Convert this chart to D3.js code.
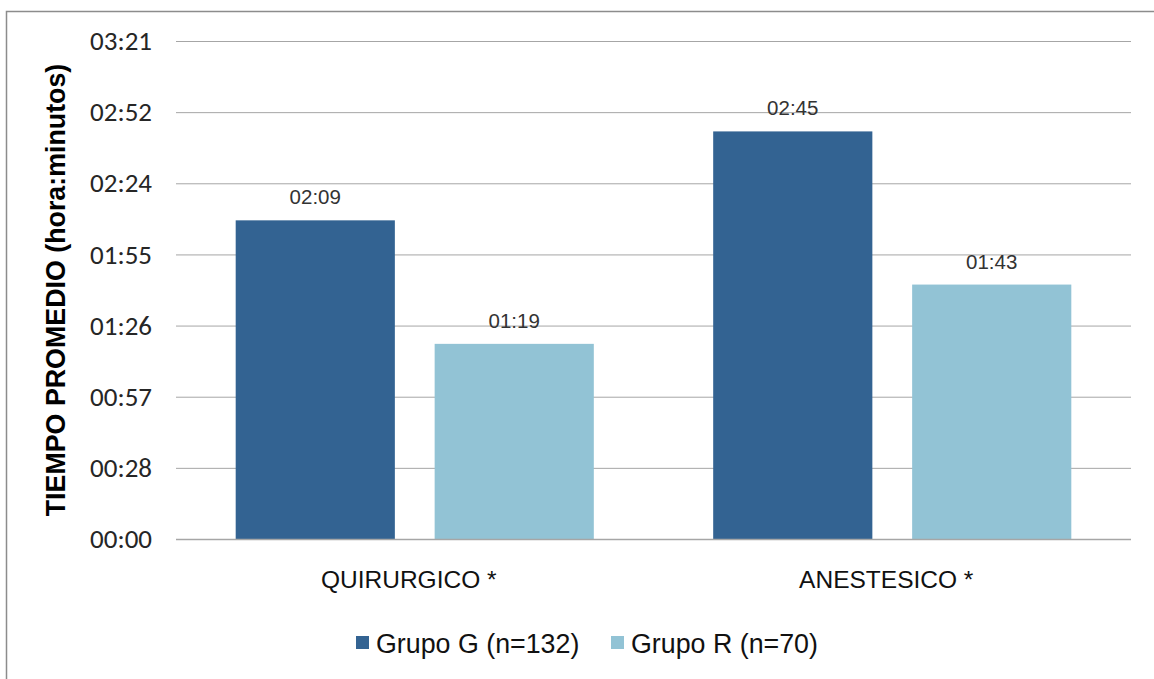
<!DOCTYPE html>
<html>
<head>
<meta charset="utf-8">
<script src="https://cdn.jsdelivr.net/npm/d3@7"></script>
<style>
  html, body { margin: 0; padding: 0; background: #fff; }
  svg { display: block; }
</style>
</head>
<body>
<svg id="chart" width="1154" height="679"></svg>
<script>
// Mean durations in minutes, per procedure category
const categories = ["QUIRURGICO *", "ANESTESICO *"];
const seriesNames = ["Grupo G (n=132)", "Grupo R (n=70)"];
const grupoG = [129, 165];
const grupoR = [79, 103];
const seriesColors = ["#336392", "#92c3d5"];
// Axis ticks every 0.02 day (28.8 min), as on a spreadsheet time axis
const tickMinutes = [0, 28.8, 57.6, 86.4, 115.2, 144, 172.8, 201.6];

const fmt = m => {
  const t = Math.floor(m + 1e-9);
  const h = Math.floor(t / 60), mm = t % 60;
  return String(h).padStart(2, "0") + ":" + String(mm).padStart(2, "0");
};

const svg = d3.select("#chart");
const W = 1154, H = 679;
const plot = { left: 176, right: 1131, top: 41, bottom: 539 };
const sans = "'Liberation Sans', Arial, sans-serif";

// Outer chart border
svg.append("rect")
  .attr("x", 6.5).attr("y", 11.5)
  .attr("width", W + 10).attr("height", H + 10)
  .attr("fill", "none").attr("stroke", "#8c8c8c").attr("stroke-width", 1.5);

const y = d3.scaleLinear().domain([0, 201.6]).range([plot.bottom, plot.top]);
const x0 = d3.scaleBand().domain(categories).range([plot.left, plot.right]);
const x1 = d3.scaleBand().domain(seriesNames).range([0, x0.bandwidth()])
  .paddingInner(0.2).paddingOuter(0.3);

// Gridlines and tick labels
const yAxis = d3.axisLeft(y).tickValues(tickMinutes).tickFormat(fmt)
  .tickSize(-(plot.right - plot.left)).tickPadding(24);
const gy = svg.append("g").attr("transform", `translate(${plot.left},0)`).call(yAxis);
gy.select(".domain").remove();
gy.selectAll(".tick line").attr("stroke", "#a6a6a6").attr("stroke-width", 1);
gy.selectAll(".tick text")
  .attr("fill", "#262626")
  .style("font-family", "Carlito, Lato, 'Open Sans', sans-serif")
  .style("font-size", "27px");

const rows = categories.map((c, i) => ({ cat: c, vals: [grupoG[i], grupoR[i]] }));

const groups = svg.append("g").selectAll("g").data(rows).join("g")
  .attr("transform", d => `translate(${x0(d.cat)},0)`);

groups.selectAll("rect").data(d => d.vals.map((v, j) => ({ v, j }))).join("rect")
  .attr("x", d => x1(seriesNames[d.j]))
  .attr("width", x1.bandwidth())
  .attr("y", d => y(d.v))
  .attr("height", d => y(0) - y(d.v))
  .attr("fill", d => seriesColors[d.j]);

// Baseline
svg.append("line")
  .attr("x1", plot.left).attr("x2", plot.right)
  .attr("y1", y(0) + 0.5).attr("y2", y(0) + 0.5)
  .attr("stroke", "#a6a6a6").attr("stroke-width", 1.5);

// Value labels above bars
groups.selectAll("text").data(d => d.vals.map((v, j) => ({ v, j }))).join("text")
  .attr("x", d => x1(seriesNames[d.j]) + x1.bandwidth() / 2)
  .attr("y", d => y(d.v) - 16)
  .attr("text-anchor", "middle")
  .attr("fill", "#333")
  .style("font-family", sans)
  .style("font-size", "20.5px")
  .text(d => fmt(d.v));

// Category labels
svg.append("g").selectAll("text").data(categories).join("text")
  .attr("x", d => x0(d) + x0.bandwidth() / 2)
  .attr("dx", -6)
  .attr("y", 588)
  .attr("text-anchor", "middle")
  .attr("fill", "#111")
  .style("font-family", sans)
  .style("font-size", "24.5px")
  .text(d => d);

// Y axis title
svg.append("text")
  .attr("transform", `translate(65,290) rotate(-90)`)
  .attr("text-anchor", "middle")
  .attr("fill", "#000")
  .style("font-family", sans)
  .style("font-size", "26.8px")
  .style("font-weight", "bold")
  .text("TIEMPO PROMEDIO (hora:minutos)");

// Legend
const legendX = [356, 611];
const lg = svg.append("g").selectAll("g").data(seriesNames).join("g")
  .attr("transform", (d, i) => `translate(${legendX[i]},636)`);
lg.append("rect").attr("width", 13).attr("height", 13).attr("fill", (d, i) => seriesColors[i]);
lg.append("text")
  .attr("x", 20).attr("y", 17)
  .attr("fill", "#111")
  .style("font-family", sans)
  .style("font-size", "26.8px")
  .text(d => d);
</script>
</body>
</html>
